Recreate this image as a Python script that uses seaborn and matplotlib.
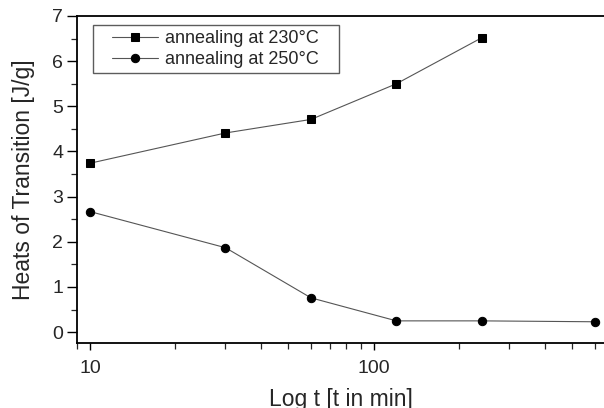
import matplotlib
matplotlib.use("Agg")
import matplotlib.pyplot as plt
import seaborn as sns
import pandas as pd
from matplotlib.ticker import LogLocator, NullFormatter, MultipleLocator, FixedLocator
from matplotlib.legend_handler import HandlerLine2D

t_230 = [10, 30, 60, 120, 240]
heat_230 = [3.74, 4.41, 4.71, 5.50, 6.52]
t_250 = [10, 30, 60, 120, 240, 600]
heat_250 = [2.67, 1.87, 0.76, 0.25, 0.25, 0.23]
labels = ["annealing at 230°C", "annealing at 250°C"]

sns.set_style("ticks")
plt.rcParams['font.family'] = ['Liberation Sans', 'DejaVu Sans']

fig = plt.figure(figsize=(6.04, 4.08), dpi=100)
ax = fig.add_axes([77/604, 1-343/408, 1-77/604, (343-16)/408])

df1 = pd.DataFrame({"t": t_230, "heat": heat_230})
df2 = pd.DataFrame({"t": t_250, "heat": heat_250})

sns.lineplot(data=df1, x="t", y="heat", ax=ax, color="#555555", linewidth=0.8,
             marker="s", markersize=5.3, markerfacecolor="black", markeredgecolor="black",
             label=labels[0])
sns.lineplot(data=df2, x="t", y="heat", ax=ax, color="#555555", linewidth=0.8,
             marker="o", markersize=6.0, markerfacecolor="black", markeredgecolor="black",
             label=labels[1])

ax.set_xscale("log")
ax.set_xlim(9.0, 646)
ax.set_ylim(-0.24, 7.0)

ax.xaxis.set_major_locator(FixedLocator([10, 100]))
ax.xaxis.set_minor_locator(LogLocator(base=10, subs=range(2, 10)))
ax.xaxis.set_minor_formatter(NullFormatter())
ax.set_xticklabels(["10", "100"])
ax.yaxis.set_major_locator(MultipleLocator(1))
ax.yaxis.set_minor_locator(MultipleLocator(0.5))

ax.tick_params(axis="both", which="major", labelsize=14, direction="out", color="black", width=1.0)
ax.tick_params(axis="x", which="major", length=5, pad=7)
ax.tick_params(axis="y", which="major", length=7, pad=3)
ax.tick_params(axis="x", which="minor", length=4, width=0.9)
ax.tick_params(axis="y", which="minor", length=4, width=0.9)

for s in ["left", "bottom", "top"]:
    ax.spines[s].set_color("black")
    ax.spines[s].set_linewidth(1.3)
ax.spines["right"].set_visible(False)

ax.set_xlabel("Log t [t in min]", fontsize=16.5, labelpad=8)
ax.set_ylabel("Heats of Transition [J/g]", fontsize=16.5, labelpad=12)

handles, labs = ax.get_legend_handles_labels()
labs = [l + "   " for l in labs]
leg = ax.legend(handles, labs, loc="upper left", bbox_to_anchor=(93/604, 1-25/408),
                bbox_transform=fig.transFigure,
                fontsize=13, frameon=True, fancybox=False, edgecolor="#333333",
                handlelength=3.3, handletextpad=0.4, labelspacing=0.2,
                borderpad=0.3, borderaxespad=0,
                handler_map={h: HandlerLine2D(xpad=0.75) for h in handles})
leg.get_frame().set_linewidth(1.0)

fig.savefig("out.png", dpi=100)
